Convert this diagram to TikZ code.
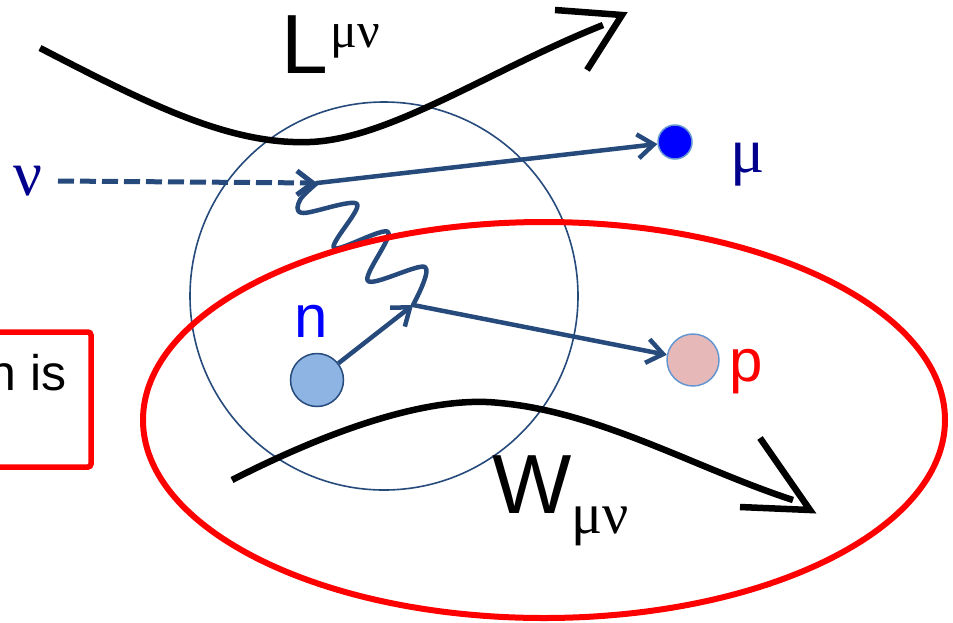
\documentclass[tikz,border=0pt]{standalone}
\usepackage{fontspec}
\setmainfont{Liberation Sans}
\newfontfamily\grk{Liberation Serif}
\usetikzlibrary{arrows.meta}
\definecolor{arrowblue}{RGB}{38,74,124}
\definecolor{navy}{RGB}{0,0,140}
\definecolor{ballblue}{RGB}{141,180,226}
\definecolor{ballpink}{RGB}{230,185,184}
\definecolor{rimblue}{RGB}{100,150,210}
\begin{document}
\begin{tikzpicture}[x=1pt,y=-1pt,
  blueline/.style={draw=arrowblue, line width=4.5pt, -{Straight Barb[length=16pt,width=24pt]}},
  blackline/.style={draw=black, line width=6.5pt},
  lbl/.style={inner sep=0pt, anchor=base west},
  ball/.style={circle, inner sep=0pt, line width=1.5pt}]
\useasboundingbox (0,0) rectangle (953,622);
% big circle
\draw[arrowblue, line width=1.6pt] (384,296) circle [radius=194pt];
% balls
\node[ball, minimum size=34pt, fill=blue, draw=rimblue] (mu) at (675,142) {};
\node[ball, minimum size=52pt, fill=ballpink, draw=rimblue] (p) at (693,360) {};
\node[ball, minimum size=53pt, fill=ballblue, draw=arrowblue] (n) at (317,380) {};
% vertices
\coordinate (nustart) at (58,181);
\coordinate (v1) at (317,183);
\coordinate (v2) at (413,305);
\draw[blueline, line width=5pt, dash pattern=on 16pt off 6pt] (nustart) -- (v1);
\draw[blueline] (v1) -- (mu);
\draw[blueline] (v2) -- (p);
\draw[blueline] (n) -- (v2);
\draw[arrowblue, line width=4.5pt, line cap=round, line join=round]
  plot[smooth, tension=0.55] coordinates {(v1) (300,200) (303,213) (357,204) (334,248) (388,232) (368,281) (425,267) (v2)};
% red ellipse
\draw[red, line width=6pt] (544,420) ellipse [x radius=401pt, y radius=198pt];
% black curves
\coordinate (Lstart) at (40,48);
\coordinate (Lend) at (603,25);
\coordinate (Ltip) at (622,15);
\draw[blackline] (Lstart) .. controls (150,105) and (230,145) .. (310,142)
  .. controls (390,139) and (490,70) .. (Lend);
\draw[blackline, line join=miter] (555,10) -- (Ltip) -- (587,70);
\coordinate (Wstart) at (232,480);
\coordinate (Wend) at (793,500);
\coordinate (Wtip) at (810,510);
\draw[blackline] (Wstart) .. controls (330,430) and (430,395) .. (500,403)
  .. controls (600,412) and (700,470) .. (Wend);
\draw[blackline, line join=miter] (760,438) -- (Wtip) -- (740,507);
% red box
\draw[red, line width=5.5pt, rounded corners=3pt] (-20,332) rectangle (91,467);
\node[inner sep=0pt, anchor=base east] (boxtxt) at (67,390) {\fontsize{50}{50}\selectfont n is};
% labels
\node[lbl, text=navy] (nulbl) at (13,195) {\grk\fontsize{64}{64}\selectfont ν};
\node[lbl, text=navy] (mulbl) at (730,172) {\grk\fontsize{64}{64}\selectfont μ};
\node[lbl, text=blue] (nlbl) at (294,337) {\fontsize{60}{60}\selectfont n};
\node[lbl, text=red] (plbl) at (729,381) {\fontsize{60}{60}\selectfont p};
\node[lbl] (L) at (281,73) {\fontsize{84}{84}\selectfont L};
\node[lbl] (Lsup) at (330,47) {\grk\fontsize{50}{50}\selectfont μν};
\node[lbl] (W) at (492,513) {\fontsize{84}{84}\selectfont W};
\node[lbl] (Wsub) at (571,533) {\grk\fontsize{58}{58}\selectfont μν};
\end{tikzpicture}
\end{document}
